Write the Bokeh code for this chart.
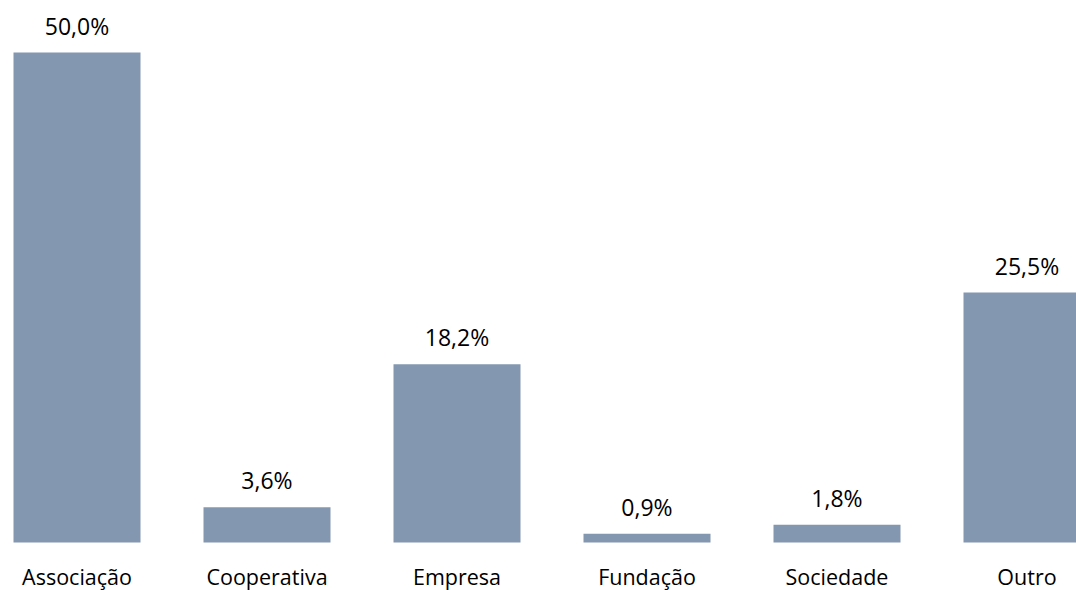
from bokeh.plotting import figure
from bokeh.models import ColumnDataSource, Range1d
from bokeh.core.properties import value
from bokeh.embed import file_html
from bokeh.resources import INLINE

categories = ["Associação", "Cooperativa", "Empresa", "Fundação", "Sociedade", "Outro"]
values = [50.0, 3.6, 18.2, 0.9, 1.8, 25.5]
value_labels = ["50,0%", "3,6%", "18,2%", "0,9%", "1,8%", "25,5%"]

W, H = 1076, 590
px_per_unit = 9.8
baseline_px = 542
x0_px = 76.5
step_px = 190

xs = list(range(len(categories)))
src = ColumnDataSource(dict(x=xs, top=values, cat=categories, lab=value_labels,
                            cat_y=[-(34 / px_per_unit)] * len(xs)))

p = figure(width=W, height=H, output_backend="svg", toolbar_location=None,
           x_range=Range1d(-x0_px / step_px, (W - x0_px) / step_px),
           y_range=Range1d(-(H - baseline_px) / px_per_unit, baseline_px / px_per_unit),
           min_border=0, outline_line_color=None)
p.axis.visible = False
p.grid.visible = False

p.vbar(x="x", top="top", bottom=0, width=127 / step_px, source=src,
       fill_color="#8497B0", line_color=None)
p.text(x="x", y="top", text="lab", source=src, text_align="center",
       text_baseline="middle", y_offset=-27, text_font=value("Open Sans"),
       text_font_size="23px", text_color="black")
p.text(x="x", y="cat_y", text="cat", source=src, text_align="center",
       text_baseline="middle", text_font=value("Open Sans"),
       text_font_size="21.5px", text_color="black")

open("out.html", "w").write(file_html(p, INLINE))
